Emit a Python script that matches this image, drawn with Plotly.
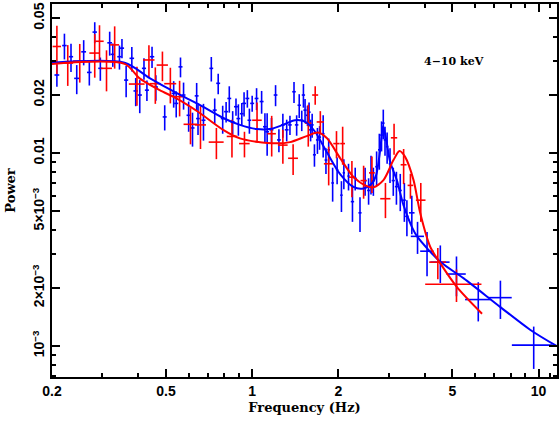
import plotly.graph_objects as go

# blue data set: frequency (Hz), power, power error, frequency half-width
blue_freq = [0.208, 0.221, 0.233, 0.244, 0.258, 0.270, 0.282, 0.295, 0.318, 0.326,
             0.344, 0.351, 0.363, 0.380, 0.392, 0.405, 0.419, 0.429, 0.447, 0.461,
             0.495, 0.532, 0.543, 0.562, 0.576, 0.600, 0.619, 0.640, 0.647, 0.676,
             0.720, 0.740, 0.761, 0.789, 0.811, 0.832, 0.855, 0.878, 0.895, 0.920,
             0.937, 0.962, 0.978, 1.000, 1.036, 1.079, 1.108, 1.128, 1.168, 1.207,
             1.240, 1.280, 1.320, 1.355, 1.400, 1.430, 1.460, 1.490, 1.510, 1.530,
             1.560, 1.580, 1.600, 1.620, 1.650, 1.690, 1.720, 1.770, 1.810, 1.850,
             1.910, 1.980, 2.050, 2.090, 2.170, 2.240, 2.290, 2.380, 2.480, 2.550,
             2.600, 2.650, 2.720, 2.780, 2.830, 2.870, 2.910, 2.960, 3.030, 3.110,
             3.190, 3.290, 3.400, 3.470, 3.610, 3.780, 4.080, 4.540, 5.170, 6.160,
             7.360, 9.620]
blue_power = [0.0254, 0.0361, 0.0316, 0.0244, 0.0335, 0.0262, 0.0424, 0.0275, 0.0373, 0.0325,
              0.0316, 0.0350, 0.0239, 0.0310, 0.0210, 0.0200, 0.0275, 0.0212, 0.0316, 0.0220,
              0.0154, 0.0204, 0.0181, 0.0280, 0.0200, 0.0157, 0.0135, 0.0198, 0.0151, 0.0148,
              0.0275, 0.0167, 0.0230, 0.0151, 0.0164, 0.0192, 0.0145, 0.0174, 0.0151, 0.0160,
              0.0181, 0.0192, 0.0148, 0.0181, 0.0192, 0.0185, 0.0137, 0.0129, 0.0132, 0.0200,
              0.0117, 0.0140, 0.0132, 0.0140, 0.0208, 0.0140, 0.0177, 0.0148, 0.0200, 0.0167,
              0.0157, 0.0163, 0.0132, 0.0140, 0.0098, 0.0117, 0.0121, 0.0126, 0.0092, 0.0104,
              0.0070, 0.0082, 0.00605, 0.0079, 0.0076, 0.0056, 0.0074, 0.0049, 0.0072, 0.0064,
              0.0079, 0.0072, 0.0085, 0.0104, 0.0124, 0.0143, 0.0117, 0.0108, 0.0088, 0.0072,
              0.0067, 0.0064, 0.0057, 0.0047, 0.0049, 0.0037, 0.0031, 0.00272, 0.00236, 0.00174,
              0.00178, 0.00101]
blue_perr = [0.0033, 0.0055, 0.0053, 0.0042, 0.0050, 0.0038, 0.0053, 0.0038, 0.0053, 0.0045,
             0.0045, 0.0040, 0.0044, 0.0045, 0.0035, 0.0039, 0.0035, 0.0026, 0.0040, 0.0033,
             0.0023, 0.0032, 0.0028, 0.0033, 0.0032, 0.0028, 0.0027, 0.0033, 0.0027, 0.0032,
             0.0040, 0.0025, 0.0028, 0.0025, 0.0020, 0.0030, 0.0020, 0.0018, 0.0028, 0.0022,
             0.0026, 0.0020, 0.0022, 0.0017, 0.0025, 0.0025, 0.0024, 0.0032, 0.0020, 0.0025,
             0.0016, 0.0020, 0.0017, 0.0016, 0.0026, 0.0017, 0.0025, 0.0018, 0.0028, 0.0024,
             0.0019, 0.0020, 0.0017, 0.0020, 0.0013, 0.0018, 0.0017, 0.0031, 0.0014, 0.0015,
             0.0014, 0.0013, 0.0011, 0.0014, 0.0012, 0.0012, 0.0010, 0.0010, 0.0012, 0.0010,
             0.0018, 0.0012, 0.0017, 0.0022, 0.0022, 0.0025, 0.0020, 0.0020, 0.0018, 0.0012,
             0.0013, 0.0014, 0.0013, 0.0010, 0.0011, 0.0007, 0.0008, 0.0006, 0.00055, 0.0004,
             0.0004, 0.00025]
blue_ferr = [0.004, 0.004, 0.004, 0.005, 0.005, 0.005, 0.005, 0.005, 0.006, 0.006,
             0.006, 0.006, 0.006, 0.007, 0.007, 0.007, 0.007, 0.007, 0.008, 0.008,
             0.008, 0.009, 0.009, 0.009, 0.009, 0.010, 0.010, 0.010, 0.010, 0.011,
             0.011, 0.012, 0.012, 0.012, 0.013, 0.013, 0.013, 0.014, 0.014, 0.014,
             0.015, 0.015, 0.015, 0.016, 0.016, 0.017, 0.017, 0.017, 0.018, 0.018,
             0.019, 0.019, 0.020, 0.020, 0.020, 0.020, 0.020, 0.020, 0.020, 0.020,
             0.020, 0.020, 0.020, 0.020, 0.020, 0.020, 0.020, 0.020, 0.020, 0.020,
             0.020, 0.020, 0.020, 0.020, 0.020, 0.030, 0.030, 0.030, 0.030, 0.030,
             0.030, 0.030, 0.030, 0.030, 0.030, 0.030, 0.030, 0.030, 0.030, 0.040,
             0.040, 0.040, 0.040, 0.050, 0.080, 0.200, 0.220, 0.350, 0.400, 0.620,
             0.700, 1.550]

# red data set
red_freq = [0.208, 0.227, 0.250, 0.282, 0.293, 0.310, 0.331, 0.396, 0.436, 0.459,
            0.486, 0.518, 0.558, 0.609, 0.660, 0.750, 0.850, 0.940, 1.040, 1.170,
            1.280, 1.390, 1.570, 1.660, 1.730, 1.850, 1.970, 2.070, 2.230, 2.450,
            2.620, 2.920, 3.130, 3.380, 3.570, 3.880, 4.450, 5.170]
red_power = [0.0357, 0.0293, 0.0300, 0.0330, 0.0380, 0.0275, 0.0364, 0.0228, 0.0304, 0.0229,
             0.0286, 0.0229, 0.0196, 0.0141, 0.0140, 0.0114, 0.0122, 0.0112, 0.0148, 0.0126,
             0.0110, 0.0094, 0.0143, 0.0200, 0.0145, 0.0088, 0.0112, 0.0112, 0.0075, 0.0072,
             0.0079, 0.0058, 0.0120, 0.0087, 0.0068, 0.0057, 0.00272, 0.00209]
red_perr = [0.0100, 0.0070, 0.0068, 0.0084, 0.0080, 0.0066, 0.0090, 0.0052, 0.0058, 0.0049,
            0.0050, 0.0048, 0.0041, 0.0030, 0.0035, 0.0021, 0.0027, 0.0017, 0.0035, 0.0030,
            0.0022, 0.0017, 0.0035, 0.0022, 0.0020, 0.0020, 0.0018, 0.0025, 0.0016, 0.0014,
            0.0017, 0.0012, 0.0022, 0.0018, 0.0010, 0.0013, 0.0005, 0.0004]
red_ferr = [0.007, 0.010, 0.013, 0.012, 0.010, 0.014, 0.012, 0.025, 0.020, 0.020,
            0.022, 0.025, 0.025, 0.033, 0.030, 0.045, 0.035, 0.040, 0.040, 0.040,
            0.050, 0.055, 0.040, 0.040, 0.050, 0.070, 0.050, 0.040, 0.050, 0.060,
            0.060, 0.120, 0.080, 0.080, 0.080, 0.150, 0.300, 1.150]

# model curves
blue_model_freq = [0.2, 0.3585, 0.4385, 0.544, 0.647, 0.792, 0.906, 1.036, 1.154, 1.28,
                   1.411, 1.53, 1.658, 1.822, 2.028, 2.257, 2.446, 2.618, 2.71, 2.80,
                   2.866, 2.94, 3.034, 3.20, 3.376, 3.61, 3.76, 4.54, 5.48, 7.36,
                   9.37, 11.55]
blue_model_power = [0.0294, 0.0294, 0.0245, 0.0205, 0.01797, 0.0152, 0.0140, 0.01332, 0.01332, 0.0140,
                    0.0148, 0.01454, 0.0129, 0.01012, 0.00778, 0.00668, 0.00656, 0.00696, 0.00769, 0.0104,
                    0.0138, 0.0117, 0.00898, 0.00724, 0.00537, 0.00414, 0.00371, 0.00273, 0.00224, 0.00159,
                    0.00121, 0.0010]
red_model_freq = [0.2, 0.3585, 0.4046, 0.4753, 0.544, 0.647, 0.792, 0.906, 1.036, 1.218,
                  1.355, 1.55, 1.698, 1.822, 2.028, 2.257, 2.514, 2.652, 2.874, 3.115,
                  3.27, 3.424, 3.66, 3.864, 4.188, 4.54, 5.19, 6.35]
red_model_power = [0.0290, 0.0290, 0.0244, 0.0212, 0.01922, 0.01638, 0.0132, 0.01192, 0.01145, 0.01123,
                   0.0114, 0.01225, 0.01278, 0.01196, 0.00942, 0.00753, 0.00674, 0.00664, 0.00724, 0.0092,
                   0.01024, 0.00953, 0.00724, 0.00487, 0.00326, 0.00268, 0.00202, 0.00147]

BLUE = "#0000ff"
RED = "#ff0000"

fig = go.Figure()


def add_points(freq, power, perr, ferr, color):
    fig.add_trace(go.Scatter(
        x=freq, y=power, mode="markers",
        marker=dict(size=1, color=color),
        error_x=dict(type="data", array=ferr, color=color, thickness=1.6, width=0),
        error_y=dict(type="data", array=perr, color=color, thickness=1.6, width=0),
        showlegend=False))


add_points(blue_freq, blue_power, blue_perr, blue_ferr, BLUE)
add_points(red_freq, red_power, red_perr, red_ferr, RED)

fig.add_trace(go.Scatter(x=blue_model_freq, y=blue_model_power, mode="lines",
                         line=dict(color=BLUE, width=2, shape="spline", smoothing=0.8),
                         showlegend=False))
fig.add_trace(go.Scatter(x=red_model_freq, y=red_model_power, mode="lines",
                         line=dict(color=RED, width=2, shape="spline", smoothing=0.8),
                         showlegend=False))

tick_font = dict(family="Liberation Sans", size=14, color="black", weight="bold")
title_font = dict(family="DejaVu Serif", size=13, color="black", weight="bold")

fig.update_xaxes(
    type="log", range=[-0.699, 1.0645], automargin=False,
    tickvals=[0.2, 0.5, 1, 2, 5, 10], ticktext=["0.2", "0.5", "1", "2", "5", "10"],
    ticks="inside", ticklen=8, tickwidth=1.5, tickcolor="black",
    minor=dict(tickvals=[0.3, 0.4, 0.6, 0.7, 0.8, 0.9, 3, 4, 6, 7, 8, 9, 11],
               ticks="inside", ticklen=4, tickwidth=1.5, tickcolor="black"),
    showline=True, linewidth=2, linecolor="black", mirror="ticks",
    showgrid=False, zeroline=False, tickfont=tick_font,
    title=dict(text="Frequency (Hz)", font=title_font, standoff=5),
)
fig.update_yaxes(
    type="log", range=[-3.161, -1.227], automargin=False,
    tickvals=[0.001, 0.002, 0.005, 0.01, 0.02, 0.05],
    ticktext=["10<sup>−3</sup>", "2×10<sup>−3</sup>", "5×10<sup>−3</sup>", "0.01", "0.02", "0.05"],
    tickangle=-90,
    ticks="inside", ticklen=8, tickwidth=1.5, tickcolor="black",
    minor=dict(tickvals=[0.0007, 0.0008, 0.0009, 0.003, 0.004, 0.006, 0.007, 0.008, 0.009, 0.03, 0.04],
               ticks="inside", ticklen=4, tickwidth=1.5, tickcolor="black"),
    showline=True, linewidth=2, linecolor="black", mirror="ticks",
    showgrid=False, zeroline=False, tickfont=tick_font,
    title=dict(text="Power", font=title_font, standoff=11),
)

fig.add_annotation(text="4−10 keV", xref="paper", yref="paper", x=0.733, y=0.845,
                   xanchor="left", yanchor="middle", showarrow=False,
                   font=dict(family="DejaVu Serif", size=11, color="black", weight="bold"))

fig.update_layout(
    width=559, height=421,
    margin=dict(l=52, r=2, t=4, b=44),
    plot_bgcolor="white", paper_bgcolor="white",
)

# drop the browser's default page margin so the figure sits at the window corner
fig.write_html("out.html", config={"displayModeBar": False},
               post_script="document.body.style.margin = '0';")
